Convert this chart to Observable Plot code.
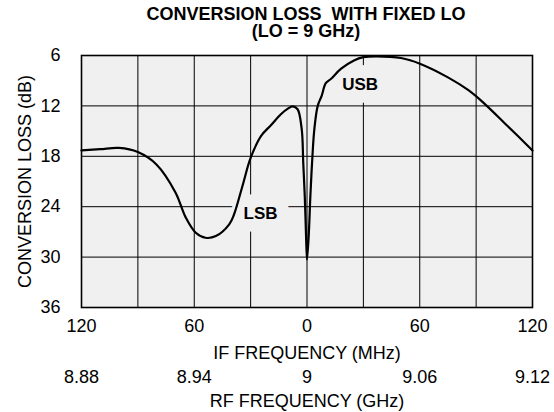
<!DOCTYPE html>
<html>
<head>
<meta charset="utf-8">
<script src="https://cdn.jsdelivr.net/npm/d3@7"></script>
<script src="https://cdn.jsdelivr.net/npm/@observablehq/plot@0.6"></script>
<style>
  body { margin: 0; background: #fff; font-family: "Liberation Sans", Arial, sans-serif; }
  #title { width: 554px; height: 44px; box-sizing: border-box; padding-top: 6px; padding-left: 58px;
           text-align: center; font-weight: bold; font-size: 18px; line-height: 17px; white-space: pre; color: #000; }
</style>
</head>
<body>
<div id="title">CONVERSION LOSS  WITH FIXED LO<br>(LO = 9 GHz)</div>
<div id="chart"></div>
<script>
// Signed IF offset from LO (MHz): negative = LSB (RF below 9 GHz), positive = USB
const ifOffsetMHz = [-120, -110, -100, -90, -80, -70, -64.5, -59.2, -54, -48.5, -41.4, -38.8, -34.3, -30, -24.5, -19.2, -13.9, -10, -7.6, -5, -2.8, -2, -1.2, -0.5, 0, 0.9, 1.8, 2.7, 3.9, 5.7, 7.8, 10, 12.7, 18, 25, 30, 37, 50, 60.4, 75, 85.7, 92.8, 107, 120];
const lossDb      = [17.3, 17.15, 17.0, 17.5, 19.0, 22.3, 25.3, 27.1, 27.7, 27.5, 26.1, 24.9, 21.5, 18.2, 15.6, 14.3, 13.0, 12.3, 12.05, 12.4, 14.8, 18.75, 22.7, 27.5, 30.3, 27.5, 22.7, 18.75, 14.8, 12.0, 10.8, 9.3, 8.8, 7.6, 6.6, 6.2, 6.1, 6.3, 7.0, 8.6, 10.1, 11.4, 14.45, 17.3];

const ifTicks = [-120, -60, 0, 60, 120];
const rfTickLabels = ["8.88", "8.94", "9", "9.06", "9.12"];
const gridXTicks = [-120, -90, -60, -30, 0, 30, 60, 90, 120];
const yTicks = [6, 12, 18, 24, 30, 36];

const bandNames = ["LSB", "USB"];
const bandX = [-24.7, 28.3];
const bandY = [24.8, 9.45];

const table = ifOffsetMHz.map((f, i) => ({f, db: lossDb[i]}));
const bands = bandNames.map((name, i) => ({name, f: bandX[i], db: bandY[i]}));
const rfMap = new Map(ifTicks.map((t, i) => [t, rfTickLabels[i]]));

const chart = Plot.plot({
  width: 554,
  height: 368,
  marginLeft: 81,
  marginRight: 22,
  marginTop: 11,
  marginBottom: 105,
  style: {fontFamily: "'Liberation Sans', Arial, sans-serif", fontSize: "18px", color: "#000", background: "#fff"},
  x: {domain: [-120, 120]},
  y: {domain: [6, 36], reverse: true},
  marks: [
    Plot.frame({fill: "#f0f0f0", stroke: "none"}),
    Plot.gridX(gridXTicks, {stroke: "#000", strokeOpacity: 1, strokeWidth: 1}),
    Plot.gridY(yTicks, {stroke: "#000", strokeOpacity: 1, strokeWidth: 1}),
    Plot.text(bands, {x: "f", y: "db", text: "name", fontWeight: "bold", fontSize: 17,
      fill: "#000", stroke: "#f0f0f0", strokeWidth: 25, strokeLinejoin: "miter"}),
    Plot.line(table, {x: "f", y: "db", curve: "catmull-rom", stroke: "#000", strokeWidth: 2.2}),
    Plot.frame({stroke: "#000", strokeWidth: 1.6}),
    Plot.axisX(ifTicks, {tickSize: 0, tickPadding: 12, tickFormat: d => String(Math.abs(d)), label: null}),
    Plot.axisX(ifTicks, {tickSize: 0, tickPadding: 63, tickFormat: d => rfMap.get(d), label: null}),
    Plot.axisY(yTicks, {tickSize: 0, tickPadding: 21, label: null}),
    Plot.text(["IF FREQUENCY (MHz)"], {frameAnchor: "bottom", dy: 45.5, lineAnchor: "middle"}),
    Plot.text(["RF FREQUENCY (GHz)"], {frameAnchor: "bottom", dy: 94, lineAnchor: "middle"}),
    Plot.text(["CONVERSION LOSS (dB)"], {frameAnchor: "left", textAnchor: "middle", rotate: -90, dx: -56.5, lineAnchor: "middle"})
  ]
});
document.getElementById("chart").appendChild(chart);
</script>
</body>
</html>
